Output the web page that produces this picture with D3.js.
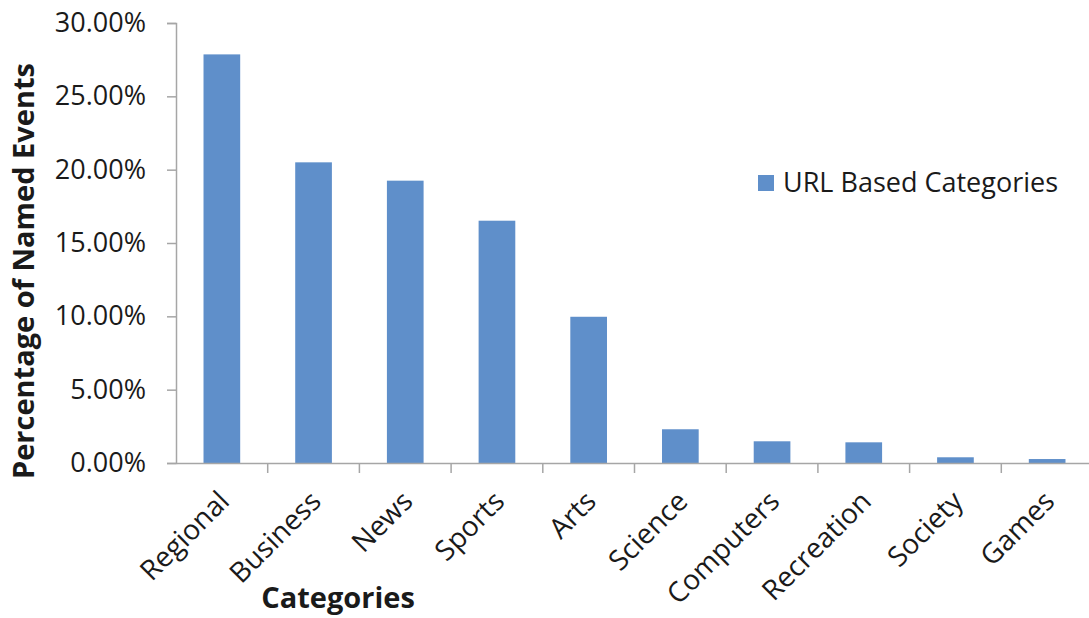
<!DOCTYPE html>
<html>
<head>
<meta charset="utf-8">
<script src="https://cdn.jsdelivr.net/npm/d3@7"></script>
<style>
  html, body { margin: 0; padding: 0; background: #ffffff; }
  svg { display: block; }
</style>
</head>
<body>
<svg id="chart" width="1089" height="618"></svg>
<script>
// Share of named events per URL-based category
const categories = ["Regional", "Business", "News", "Sports", "Arts", "Science", "Computers", "Recreation", "Society", "Games"];
const values = [0.2786, 0.2050, 0.1925, 0.1652, 0.0997, 0.0230, 0.0148, 0.0141, 0.0039, 0.0027];
const yTicks = [0, 0.05, 0.10, 0.15, 0.20, 0.25, 0.30];
const seriesName = "URL Based Categories";

const svg = d3.select("#chart");
const font = "'Open Sans', sans-serif";
const barColor = "#5f8fca";
const axisColor = "#a6a6a6";

const plot = { left: 176, right: 1093, top: 23, bottom: 463 };

const x = d3.scaleBand().domain(categories).range([plot.left, plot.right]).padding(0);
const y = d3.scaleLinear().domain([0, 0.30]).range([plot.bottom, plot.top]);

// bars
svg.append("g").selectAll("rect")
  .data(categories)
  .join("rect")
  .attr("x", d => x(d) + x.bandwidth() * 0.3)
  .attr("width", x.bandwidth() * 0.4)
  .attr("y", (d, i) => y(values[i]))
  .attr("height", (d, i) => y(0) - y(values[i]))
  .attr("fill", barColor);

// y axis
const yAxis = svg.append("g")
  .attr("transform", `translate(${plot.left},0)`)
  .call(d3.axisLeft(y).tickValues(yTicks).tickFormat(d3.format(".2%")).tickSizeOuter(0).tickSize(9).tickPadding(21));
yAxis.select(".domain").attr("stroke", axisColor).attr("stroke-width", 1.5);
yAxis.selectAll(".tick line").attr("stroke", axisColor).attr("stroke-width", 1.5);
yAxis.selectAll(".tick text")
  .attr("font-family", font).attr("font-size", 27).attr("fill", "#1a1a1a");

// x axis
const xAxis = svg.append("g")
  .attr("transform", `translate(0,${plot.bottom})`)
  .call(d3.axisBottom(x).tickSize(0).tickSizeOuter(0));
xAxis.select(".domain").attr("stroke", axisColor).attr("stroke-width", 1.5);
// tick marks sit on band boundaries
xAxis.selectAll(".sep")
  .data(categories.slice(1))
  .join("line")
  .attr("class", "sep")
  .attr("x1", d => x(d)).attr("x2", d => x(d))
  .attr("y1", 0).attr("y2", 10)
  .attr("stroke", axisColor).attr("stroke-width", 1.5);
xAxis.selectAll(".tick text")
  .attr("font-family", font).attr("font-size", 28).attr("fill", "#1a1a1a")
  .attr("text-anchor", "end")
  .attr("dy", 0)
  .attr("transform", "translate(7,38) rotate(-45)");

// axis titles
svg.append("text")
  .attr("transform", "translate(34,271) rotate(-90)")
  .attr("text-anchor", "middle")
  .attr("font-family", font).attr("font-weight", "bold").attr("font-size", 29)
  .attr("fill", "#1a1a1a")
  .text("Percentage of Named Events");

svg.append("text")
  .attr("x", 338).attr("y", 608)
  .attr("text-anchor", "middle")
  .attr("font-family", font).attr("font-weight", "bold").attr("font-size", 29)
  .attr("fill", "#1a1a1a")
  .text("Categories");

// legend
const legend = svg.append("g").attr("transform", "translate(758,175)");
legend.append("rect").attr("width", 16).attr("height", 16).attr("fill", barColor);
legend.append("text")
  .attr("x", 25).attr("y", 17)
  .attr("font-family", font).attr("font-size", 27).attr("fill", "#1a1a1a")
  .text(seriesName);
</script>
</body>
</html>
